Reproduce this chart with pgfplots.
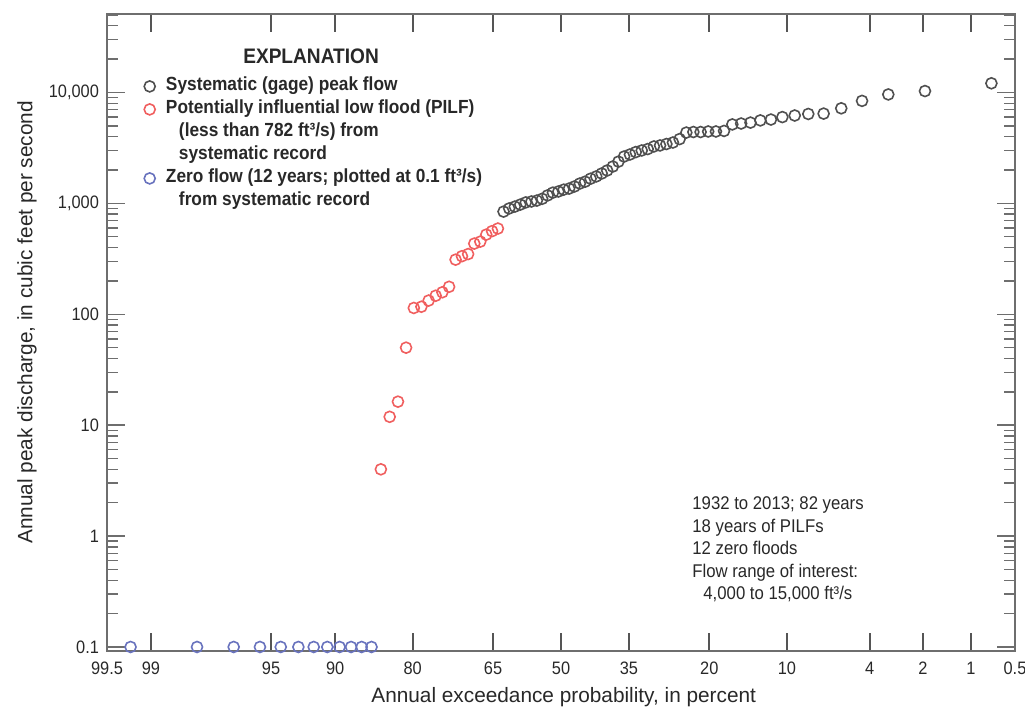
\documentclass[border=0pt]{standalone}
\usepackage{fontspec}
\setmainfont{Liberation Sans}
\newfontfamily\cond[FakeStretch=0.91]{Liberation Sans}
\usepackage{pgfplots}
\usepackage{pgfplotstable}
\pgfplotsset{compat=1.18}

\definecolor{axgray}{RGB}{110,110,110}
\definecolor{tickgray}{RGB}{85,85,85}
\definecolor{ptblack}{RGB}{80,80,80}
\definecolor{ptred}{RGB}{240,95,95}
\definecolor{ptblue}{RGB}{105,115,190}
\definecolor{txt}{RGB}{40,40,40}

% x = standard normal quantile of non-exceedance (probability scale)
\pgfplotstableread{
x y
2.442 12100
2.065 10300
1.857 9600
1.708 8400
1.590 7200
1.490 6450
1.403 6400
1.326 6200
1.256 6000
1.191 5700
1.131 5600
1.075 5350
1.022 5250
0.972 5150
0.925 4500
0.879 4450
0.835 4450
0.792 4400
0.751 4400
0.711 4350
0.673 3800
0.635 3540
0.598 3430
0.562 3330
0.527 3260
0.492 3090
0.458 3000
0.424 2900
0.391 2760
0.358 2645
0.326 2380
0.294 2150
0.262 1980
0.231 1860
0.200 1750
0.168 1670
0.137 1570
0.107 1510
0.076 1420
0.046 1360
0.015 1330
-0.015 1280
-0.046 1250
-0.076 1180
-0.107 1100
-0.137 1060
-0.168 1040
-0.200 1020
-0.231 975
-0.262 935
-0.294 900
-0.326 843
}\systematic

\pgfplotstableread{
x y
-0.358 593
-0.391 562
-0.424 523
-0.458 452
-0.492 434
-0.527 349
-0.562 334
-0.598 311
-0.635 177
-0.673 158
-0.711 147
-0.751 133
-0.792 117
-0.835 114
-0.879 50
-0.925 16.3
-0.972 11.9
-1.022 4.0
}\pilf

\pgfplotstableread{
x y
-1.075 0.1
-1.131 0.1
-1.191 0.1
-1.256 0.1
-1.326 0.1
-1.403 0.1
-1.490 0.1
-1.590 0.1
-1.708 0.1
-1.857 0.1
-2.065 0.1
-2.442 0.1
}\zeroflow

\newcommand\ticfont{\cond\fontsize{9}{10}\selectfont}
\newcommand\legfont{\cond\bfseries\fontsize{9.5}{11}\selectfont}

\begin{document}
\begin{tikzpicture}
\begin{axis}[
    scale only axis,
    width=454pt, height=318.5pt,
    ymode=log,
    xmin=-2.5758, xmax=2.5758,
    ymin=0.092, ymax=51000,
    clip=false,
    axis line style={draw=axgray, line width=0.75pt},
    every tick/.style={draw=axgray, line width=0.7pt},
    every major x tick/.style={draw=tickgray, line width=1pt},
    tick align=inside,
    tick pos=both,
    xticklabel pos=bottom, yticklabel pos=left,
    major tick length=9pt,
    minor tick length=5.5pt,
    xtick={-2.5758,-2.3263,-1.6449,-1.2816,-0.8416,-0.3853,0,0.3853,0.8416,1.2816,1.7507,2.0537,2.3263,2.5758},
    xticklabels={99.5,99,95,90,80,65,50,35,20,10,4,2,1,0.5},
    ytick={0.1,1,10,100,1000,10000},
    yticklabels={0.1,1,10,100,{1,000},{10,000}},
    minor ytick={0.2,0.3,0.4,0.5,0.6,0.7,0.8,0.9,
        2,3,4,5,6,7,8,9,20,30,40,50,60,70,80,90,
        200,300,400,500,600,700,800,900,
        2000,3000,4000,5000,6000,7000,8000,9000,
        20000,30000,40000,50000},
    tick label style={font=\ticfont, text=txt},
    x tick label style={yshift=-2pt},
    y tick label style={xshift=-0.5pt},
    xlabel={Annual exceedance probability, in percent},
    ylabel={Annual peak discharge, in cubic feet per second},
    xlabel style={at={(axis description cs:0.503,-0.0722)}, anchor=center,
        font=\fontsize{10.4}{12}\selectfont, text=txt},
    ylabel style={at={(axis description cs:-0.0881,0.516)}, anchor=center,
        font=\fontsize{10.4}{12}\selectfont, text=txt},
    legend image code/.code={\draw[#1] plot coordinates {(0pt,0pt)};},
    legend cell align=left,
    legend style={draw=none, fill=none, at={(0,1)}, anchor=north west,
        xshift=18.4pt, yshift=-30.75pt, inner sep=0pt, row sep=1pt,
        font=\legfont, text=txt,
        nodes={inner sep=0.5pt, text height=7pt, text depth=2.5pt},
        /tikz/every odd column/.append style={column sep=4.9pt}},
]
\addplot[only marks, mark=o, mark size=2.75pt, draw=ptblack, mark options={line width=0.8pt}]
    table[x=x, y=y] {\systematic};
\addlegendentry{Systematic (gage) peak flow}
\addplot[only marks, mark=o, mark size=2.75pt, draw=ptred, mark options={line width=0.8pt}]
    table[x=x, y=y] {\pilf};
\addlegendentry{Potentially influential low flood (PILF)}
\addlegendimage{empty legend}
\addlegendentry{\hspace*{6.5pt}(less than 782 ft³/s) from}
\addlegendimage{empty legend}
\addlegendentry{\hspace*{6.5pt}systematic record}
\addplot[only marks, mark=o, mark size=2.75pt, draw=ptblue, mark options={line width=0.8pt}]
    table[x=x, y=y] {\zeroflow};
\addlegendentry{Zero flow (12 years; plotted at 0.1 ft³/s)}
\addlegendimage{empty legend}
\addlegendentry{\hspace*{6.5pt}from systematic record}

\node[font=\cond\bfseries\fontsize{10.5}{12}\selectfont, text=txt]
    at (rel axis cs:0.2247,0.934) {EXPLANATION};
\node[anchor=north west, align=left, inner sep=0pt, text=txt,
      font=\cond\fontsize{9.2}{11.25}\selectfont]
    at (rel axis cs:0.6443,0.2425)
    {1932 to 2013; 82 years\\18 years of PILFs\\12 zero floods\\Flow range of interest:\\\hspace*{5.5pt}4,000 to 15,000 ft³/s};
\end{axis}
\pgfresetboundingbox
\path[use as bounding box] (current axis.south west) ++(-53.5pt,-28.5pt) rectangle ++(512.5pt,354pt);
\end{tikzpicture}
\end{document}
